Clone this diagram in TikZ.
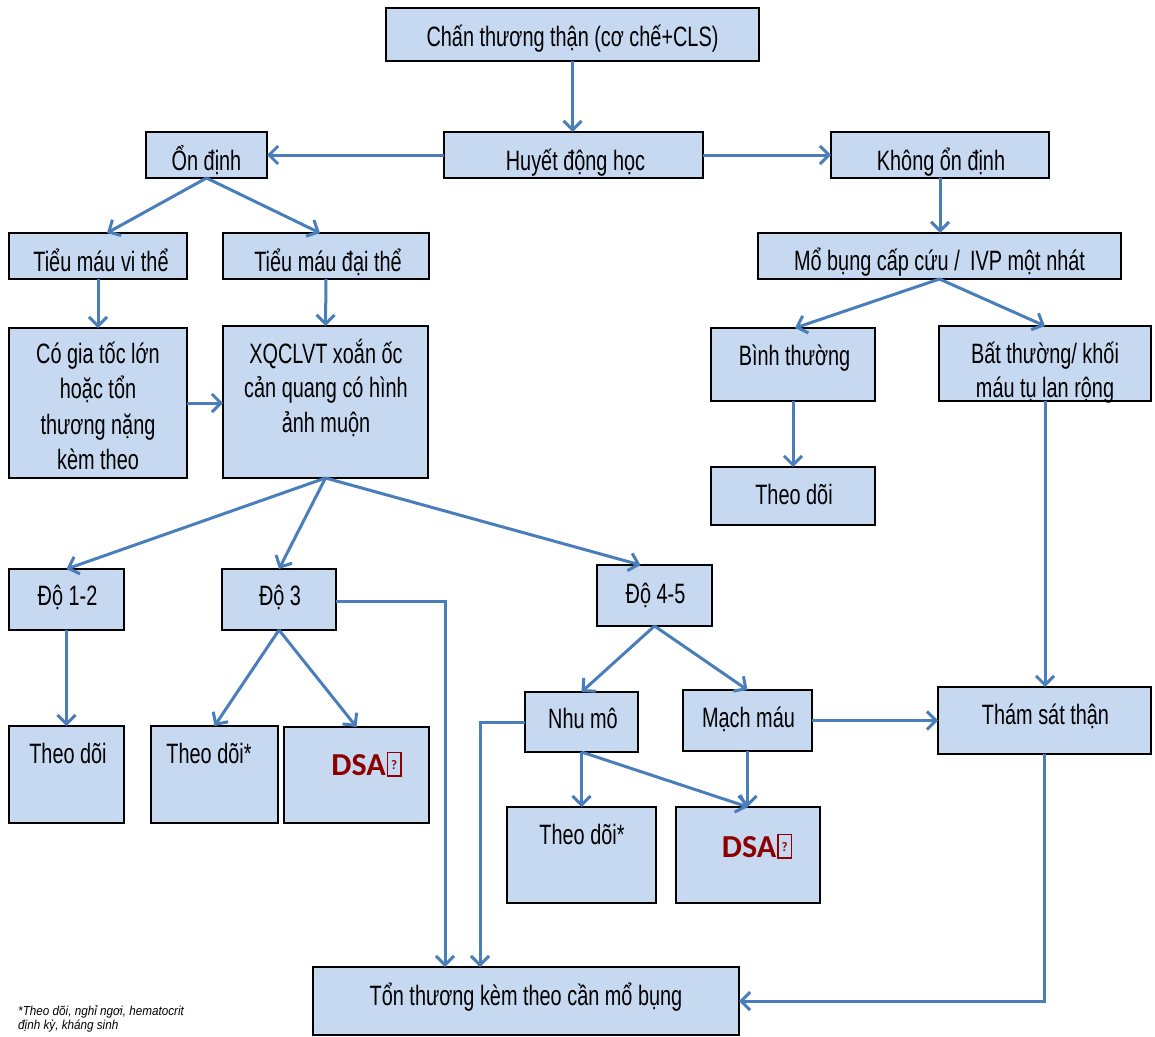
\documentclass[tikz,border=0pt]{standalone}
\usepackage{fontspec}
\setmainfont{Liberation Sans}[FakeStretch=0.71]
\newfontfamily\notefont{Liberation Sans}[FakeStretch=0.9]
\newfontfamily\dsafont{Carlito}
\usetikzlibrary{arrows.meta,fit,calc}
\definecolor{boxfill}{RGB}{198,217,241}
\definecolor{arrowblue}{RGB}{74,126,187}
\definecolor{dsared}{RGB}{140,0,0}
\newcommand{\mlines}[1]{\begin{tabular}[t]{@{}c@{}}#1\end{tabular}}
\newcommand{\dsatext}{{\color{dsared}\dsafont\bfseries\fontsize{32}{32}\selectfont DSA\hspace{1pt}{\fboxsep=0pt\fboxrule=1.5pt\fbox{\makebox[12pt]{\rule{0pt}{22pt}\raisebox{6pt}{\fontsize{13}{13}\selectfont ?}}}}}}
\tikzset{
  box/.style={draw=black, line width=2.5pt, fill=boxfill, inner sep=0pt, outer sep=0pt},
  txt/.style={font=\fontsize{28}{35}\selectfont, inner sep=0pt, anchor=base},
  arr/.style={draw=arrowblue, line width=3pt, -{Straight Barb[length=9pt,width=18pt]}},
}
\begin{document}
\begin{tikzpicture}[x=1pt,y=-1pt]
\useasboundingbox (0,0) rectangle (1155,1036);
% boxes
\node[box, fit={(386,8)(759,61)}] (chan) {};
\node[box, fit={(444,132)(703,178)}] (huyet) {};
\node[box, fit={(146,132)(267,178)}] (ondinh) {};
\node[box, fit={(831,132)(1049,178)}] (khong) {};
\node[box, fit={(9,233)(187,279)}] (tieuvi) {};
\node[box, fit={(223,233)(429,279)}] (tieudai) {};
\node[box, fit={(758,233)(1121,279)}] (mo) {};
\node[box, fit={(9,328)(187,478)}] (cogia) {};
\node[box, fit={(223,326)(428,478)}] (xq) {};
\node[box, fit={(711,328)(875,401)}] (binh) {};
\node[box, fit={(939,326)(1151,401)}] (batthuong) {};
\node[box, fit={(711,467)(875,525)}] (theodoiR) {};
\node[box, fit={(9,569)(124,630)}] (do12) {};
\node[box, fit={(222,569)(336,630)}] (do3) {};
\node[box, fit={(597,565)(712,626)}] (do45) {};
\node[box, fit={(525,692)(638,752)}] (nhumo) {};
\node[box, fit={(683,690)(812,751)}] (machmau) {};
\node[box, fit={(938,687)(1151,754)}] (tham) {};
\node[box, fit={(9,726)(124,823)}] (theodoi1) {};
\node[box, fit={(151,726)(278,823)}] (theodoi2) {};
\node[box, fit={(284,727)(429,823)}] (dsa1) {};
\node[box, fit={(507,807)(656,903)}] (theodoi3) {};
\node[box, fit={(676,807)(820,903)}] (dsa2) {};
\node[box, fit={(313,967)(739,1035)}] (ton) {};
% texts
\node[txt] (chanT) at (572.5,46) {Chấn thương thận (cơ chế+CLS)};
\node[txt] (huyetT) at (575.5,170) {Huyết động học};
\node[txt] (ondinhT) at (206.5,170) {Ổn định};
\node[txt] (khongT) at (941,170) {Không ổn định};
\node[txt] (tieuviT) at (101,271) {Tiểu máu vi thể};
\node[txt] (tieudaiT) at (328,271) {Tiểu máu đại thể};
\node[txt] (moT) at (939.5,270) {Mổ bụng cấp cứu / \,IVP một nhát};
\node[txt, font=\fontsize{28}{35.5}\selectfont] (cogiaT) at (98,363) {\mlines{Có gia tốc lớn\\hoặc tổn\\thương nặng\\kèm theo}};
\node[txt, font=\fontsize{28}{34.5}\selectfont] (xqT) at (326,363) {\mlines{XQCLVT xoắn ốc\\cản quang có hình\\ảnh muộn}};
\node[txt] (binhT) at (794.5,365) {Bình thường};
\node[txt, font=\fontsize{28}{34}\selectfont] (batT) at (1045,363) {\mlines{Bất thường/ khối\\máu tụ lan rộng}};
\node[txt] (theodoiRT) at (794,504) {Theo dõi};
\node[txt] (do12T) at (67.5,605) {Độ 1-2};
\node[txt] (do3T) at (280,605) {Độ 3};
\node[txt] (do45T) at (655.5,603) {Độ 4-5};
\node[txt] (nhumoT) at (583,728) {Nhu mô};
\node[txt] (machmauT) at (748.5,727) {Mạch máu};
\node[txt] (thamT) at (1045.5,724) {Thám sát thận};
\node[txt] (theodoi1T) at (68,763) {Theo dõi};
\node[txt] (theodoi2T) at (209,763) {Theo dõi*};
\node[txt] (dsa1T) at (366.5,775) {\dsatext};
\node[txt] (theodoi3T) at (582,844) {Theo dõi*};
\node[txt] (dsa2T) at (757,857) {\dsatext};
\node[txt] (tonT) at (526,1005) {Tổn thương kèm theo cần mổ bụng};
\node[inner sep=0pt, anchor=base west, align=left, font=\notefont\itshape\fontsize{13}{14}\selectfont] (note) at (18,1029) {*Theo dõi, nghỉ ngơi, hematocrit\\định kỳ, kháng sinh};
% connectors
\draw[arr] (chan.south) -- (chan.south |- huyet.north);
\draw[arr] (huyet.west) -- (ondinh.east);
\draw[arr] (huyet.east) -- (khong.west);
\draw[arr] (ondinh.south) -- ([xshift=9pt]tieuvi.north);
\draw[arr] (ondinh.south) -- ([xshift=-6pt]tieudai.north);
\draw[arr] (tieuvi.south) -- (cogia.north);
\draw[arr] (tieudai.south) -- (xq.north);
\draw[arr] (cogia.east) -- (cogia.east -| xq.west);
\draw[arr] (xq.south) -- (do12.north);
\draw[arr] (xq.south) -- (do3.north);
\draw[arr] (xq.south) -- ([xshift=-14pt]do45.north);
\draw[arr] (do12.south) -- (do12.south |- theodoi1.north);
\draw[arr] (do3.south) -- (theodoi2.north);
\draw[arr] (do3.south) -- (dsa1.north);
\draw[arr] ([yshift=-1.5pt]do3.east) -| ([xshift=-81pt]ton.north);
\draw[arr] (do45.south) -- (nhumo.north);
\draw[arr] (do45.south) -- (machmau.north);
\draw[arr] (nhumo.west) -| ([xshift=-46pt]ton.north);
\draw[arr] (nhumo.south) -- (nhumo.south |- theodoi3.north);
\draw[arr] (nhumo.south) -- (dsa2.north);
\draw[arr] (machmau.south) -- (machmau.south |- dsa2.north);
\draw[arr] (machmau.east) -- (machmau.east -| tham.west);
\draw[arr] (khong.south) -- (khong.south |- mo.north);
\draw[arr] (mo.south) -- ([xshift=2pt]binh.north);
\draw[arr] (mo.south) -- (batthuong.north);
\draw[arr] (binh.south) -- (binh.south |- theodoiR.north);
\draw[arr] (batthuong.south) -- (batthuong.south |- tham.north);
\draw[arr] (tham.south) |- (ton.east);
\end{tikzpicture}
\end{document}
